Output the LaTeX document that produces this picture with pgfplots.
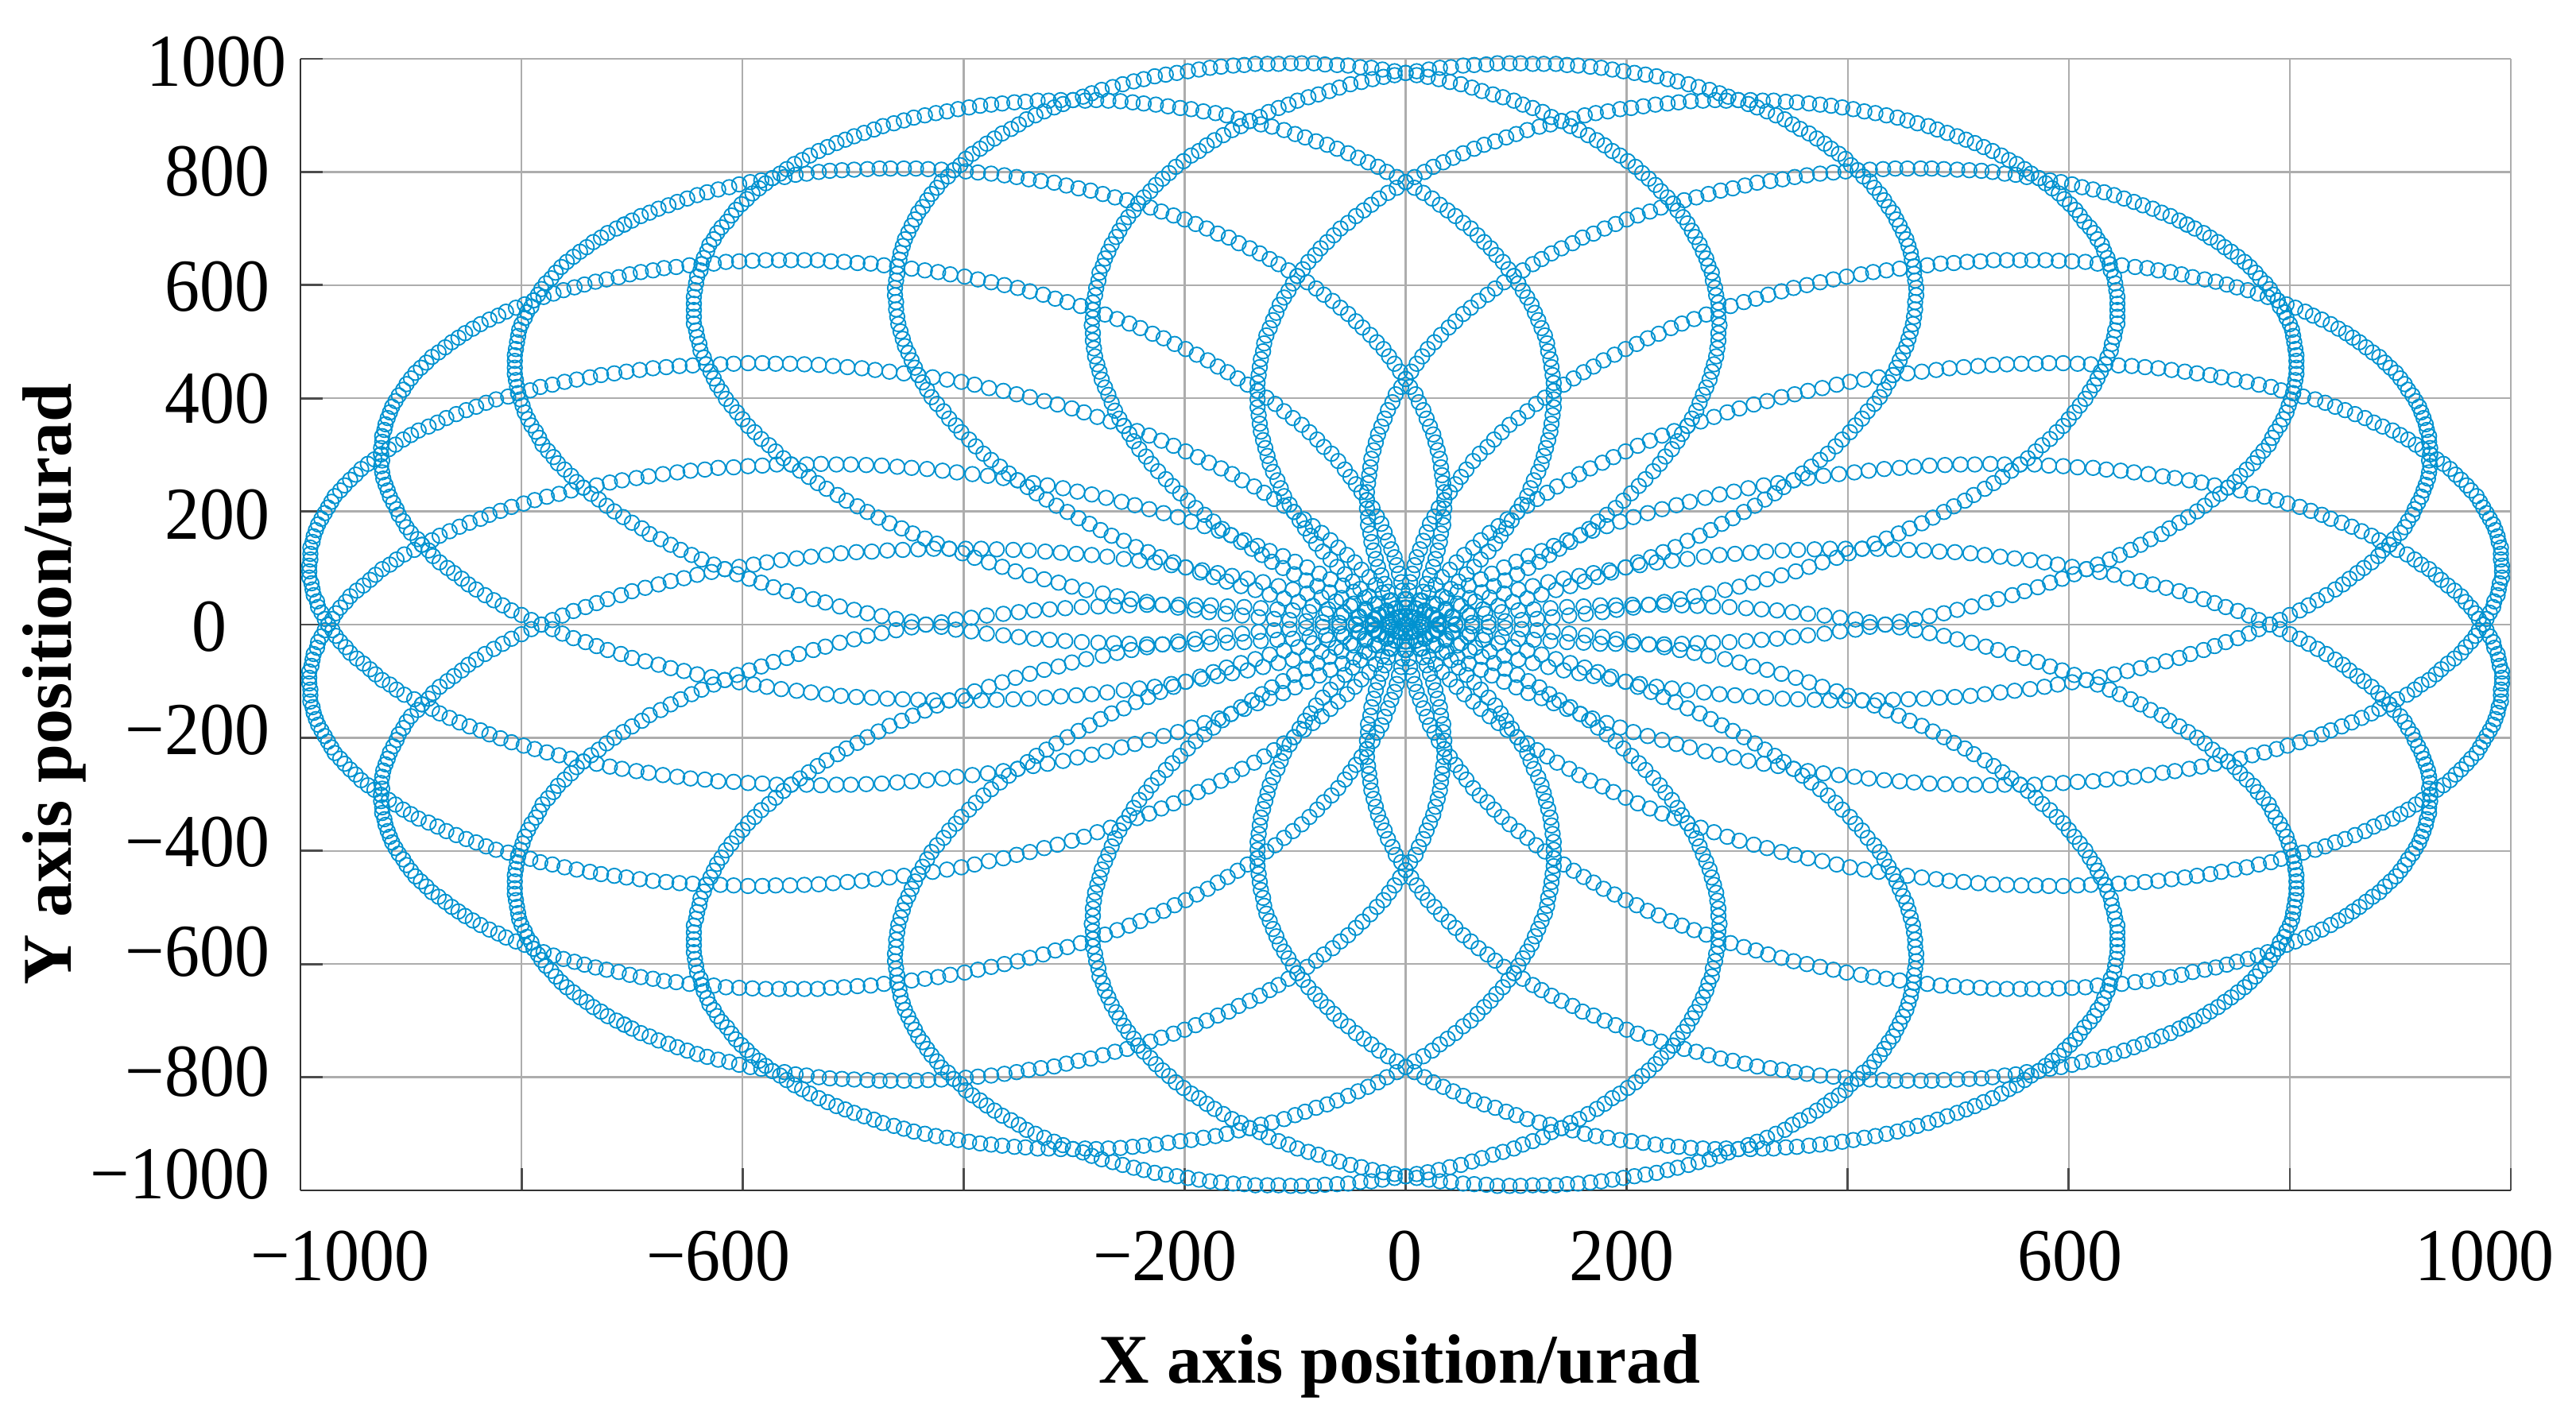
\documentclass[border=0pt]{standalone}
\usepackage{fontspec}
\setmainfont{Liberation Serif}
\usepackage{pgfplots}
\usepackage{pgfplotstable}
\pgfplotsset{compat=1.18}
\definecolor{ringblue}{RGB}{0,146,208}

% petal with its tip at 9 deg
\pgfplotstableread[row sep=\\]{
x y\\
0 0\\9 -12\\18 -24\\28 -36\\37 -47\\47 -58\\57 -69\\68 -80\\78 -90\\89 -101\\100 -111\\111 -121\\
123 -130\\134 -139\\146 -149\\158 -158\\169 -166\\182 -174\\194 -182\\206 -190\\219 -197\\232 -204\\
245 -211\\257 -217\\271 -224\\284 -230\\297 -235\\310 -241\\324 -246\\337 -250\\351 -255\\364 -259\\
378 -263\\392 -266\\406 -269\\419 -272\\433 -275\\447 -277\\460 -279\\474 -281\\488 -282\\502 -283\\
515 -283\\529 -284\\542 -283\\556 -283\\569 -283\\582 -281\\595 -280\\608 -278\\622 -277\\634 -274\\
647 -272\\659 -269\\672 -266\\685 -262\\696 -259\\709 -255\\720 -251\\732 -246\\744 -242\\755 -237\\
766 -231\\777 -226\\788 -220\\798 -214\\809 -208\\819 -201\\829 -194\\837 -187\\847 -180\\856 -173\\
865 -165\\874 -157\\881 -149\\890 -141\\897 -132\\906 -124\\913 -115\\919 -106\\926 -98\\932 -88\\
937 -79\\943 -69\\949 -60\\955 -50\\959 -40\\964 -30\\968 -20\\971 -10\\975 0\\978 10\\981 21\\984 31\\
985 41\\988 52\\989 62\\990 73\\992 83\\992 94\\992 104\\991 115\\991 125\\991 136\\989 146\\988 156\\
986 167\\984 177\\981 187\\978 197\\975 207\\972 217\\969 227\\964 237\\960 246\\955 256\\950 265\\
945 275\\939 284\\933 292\\927 301\\920 310\\914 318\\907 327\\900 335\\893 343\\884 350\\876 357\\
868 365\\859 372\\850 379\\841 385\\832 392\\823 398\\812 403\\803 409\\792 414\\783 420\\772 424\\
761 429\\750 433\\738 437\\728 441\\716 444\\705 447\\693 450\\681 453\\669 455\\657 457\\645 458\\
633 460\\620 460\\608 461\\595 462\\582 462\\570 461\\557 461\\544 460\\531 459\\518 457\\505 455\\
492 453\\480 450\\467 447\\454 444\\441 441\\428 437\\415 433\\402 429\\390 424\\377 418\\364 413\\
352 407\\340 402\\327 395\\315 389\\302 382\\291 375\\279 367\\267 359\\255 351\\243 342\\232 334\\
221 325\\210 316\\199 306\\188 296\\178 286\\167 276\\157 266\\148 255\\137 244\\128 233\\119 222\\
110 210\\101 199\\92 186\\84 174\\76 162\\68 149\\61 136\\53 123\\46 110\\40 97\\33 84\\27 70\\21 56\\
15 42\\10 28\\5 14\\0 0\\
}\petalA

% petal with its tip at 27 deg
\pgfplotstableread[row sep=\\]{
x y\\
0 0\\12 -9\\25 -17\\37 -25\\50 -33\\63 -41\\76 -48\\89 -55\\102 -62\\115 -68\\129 -75\\143 -81\\
157 -86\\170 -91\\184 -96\\199 -101\\212 -105\\227 -110\\241 -113\\255 -116\\270 -120\\284 -123\\
298 -125\\312 -127\\326 -129\\341 -131\\355 -132\\370 -133\\384 -134\\398 -134\\413 -134\\427 -134\\
441 -133\\455 -132\\469 -131\\483 -129\\497 -128\\511 -126\\524 -123\\538 -120\\551 -117\\565 -114\\
578 -110\\590 -106\\603 -102\\616 -98\\628 -93\\641 -88\\653 -82\\665 -77\\676 -71\\688 -65\\700 -59\\
710 -52\\722 -45\\732 -38\\742 -31\\753 -24\\763 -16\\772 -8\\782 0\\791 8\\800 17\\809 25\\817 34\\
825 43\\833 52\\841 62\\848 71\\854 81\\861 91\\867 100\\874 110\\880 121\\884 131\\890 141\\894 151\\
900 162\\904 172\\907 183\\911 194\\913 204\\916 215\\919 226\\921 237\\923 247\\925 258\\926 269\\
927 280\\926 290\\927 301\\927 312\\926 323\\926 333\\924 344\\923 354\\921 365\\919 375\\917 385\\
914 395\\911 405\\907 415\\904 425\\900 435\\896 445\\891 454\\886 463\\881 473\\875 481\\869 490\\
863 499\\857 507\\851 515\\844 523\\837 531\\829 539\\821 546\\814 553\\805 560\\797 566\\789 573\\
780 579\\771 585\\762 591\\752 596\\743 601\\733 606\\723 610\\712 614\\702 619\\692 623\\681 626\\
671 630\\660 632\\648 635\\637 637\\626 638\\615 641\\603 642\\591 643\\579 644\\567 644\\556 644\\
544 644\\532 644\\520 642\\508 641\\496 639\\484 638\\472 635\\460 633\\447 629\\435 626\\423 623\\
412 619\\399 615\\387 610\\375 605\\363 600\\351 595\\340 589\\328 583\\317 576\\306 570\\294 563\\
283 556\\272 548\\261 540\\250 532\\240 524\\229 514\\219 506\\209 496\\199 487\\189 477\\179 467\\
170 456\\161 446\\152 435\\143 424\\134 413\\126 401\\118 390\\110 377\\102 365\\94 353\\87 340\\
80 327\\74 314\\67 302\\61 289\\55 274\\50 261\\45 248\\40 234\\35 220\\30 206\\26 191\\22 178\\
19 163\\16 148\\13 133\\10 119\\8 105\\6 90\\4 75\\3 60\\1 45\\1 30\\0 15\\0 0\\
}\petalB

% upper half of the petal with its tip at 45 deg
\pgfplotstableread[row sep=\\]{
x y\\
707 707\\700 714\\692 722\\684 728\\676 735\\667 741\\659 747\\650 753\\641 759\\632 764\\622 769\\
612 773\\603 778\\593 782\\583 785\\573 789\\562 791\\552 795\\542 797\\531 800\\521 802\\510 803\\
499 804\\487 805\\476 806\\466 806\\454 806\\443 806\\432 805\\420 804\\409 803\\398 801\\387 799\\
375 797\\363 794\\352 791\\341 787\\330 784\\318 781\\307 776\\296 771\\285 767\\274 761\\263 755\\
252 750\\242 744\\231 737\\221 730\\210 723\\200 716\\190 708\\180 700\\170 691\\160 684\\151 674\\
141 665\\132 656\\123 646\\115 637\\106 626\\98 616\\89 605\\81 594\\74 583\\66 572\\59 560\\52 549\\
45 536\\39 525\\32 512\\26 499\\20 487\\15 474\\10 461\\5 447\\0 434\\-4 420\\-9 407\\-12 393\\
-16 379\\-19 364\\-22 350\\-25 336\\-27 322\\-29 308\\-31 293\\-32 278\\-33 264\\-34 250\\-35 234\\
-35 220\\-35 205\\-34 190\\-34 176\\-32 161\\-31 146\\-29 131\\-27 116\\-25 102\\-22 87\\-19 72\\
-16 58\\-13 43\\-9 29\\-4 14\\0 0\\
}\petalC

\pgfplotsset{
  panel/.style={
    scale only axis, width=13.905cm, height=7.12cm,
    xmin=-1000, xmax=1000, ymin=-1000, ymax=1000,
    clip=false,
  },
  rings/.style={only marks, mark=o, mark size=1.32pt,
    mark options={draw=ringblue, line width=0.26pt}},
}
\newcommand{\allpetals}{
  \addplot[rings] table[x=x,y=y]{\petalA};
  \addplot[rings] table[x=y,y=x]{\petalA};
  \addplot[rings] table[x=x,y=y]{\petalB};
  \addplot[rings] table[x=y,y=x]{\petalB};
  \addplot[rings] table[x=x,y=y]{\petalC};
  \addplot[rings] table[x=y,y=x]{\petalC};
}
\newcommand{\ticklab}[3]{\node[anchor=#1, inner sep=0pt, yscale=1.07, transform shape,
  font=\fontsize{12.5}{14}\selectfont] at (#2) {#3};}

\begin{document}
\begin{tikzpicture}
\path[use as bounding box] (-1.89,-1.47) rectangle (14.315,7.49);
\begin{axis}[panel,
    axis x line*=bottom, axis y line*=left,
    axis line style={-, black!80, line width=0.4pt},
    xtick={-1000,-800,...,1000}, ytick={-1000,-800,...,1000},
    xticklabels={}, yticklabels={},
    tick align=inside, major tick length=0.14cm,
    tick style={black!70, line width=0.4pt},
    grid=major, grid style={black!32, line width=0.35pt},
]
\allpetals
\end{axis}
\begin{axis}[panel, hide axis, x dir=reverse]
\allpetals
\end{axis}
\begin{axis}[panel, hide axis, y dir=reverse]
\allpetals
\end{axis}
\begin{axis}[panel, hide axis, x dir=reverse, y dir=reverse]
\allpetals
\end{axis}
% tick labels sit off their ticks in the original
\ticklab{center}{0.25,-0.413}{−1000}
\ticklab{center}{2.63,-0.413}{−600}
\ticklab{center}{5.44,-0.413}{−200}
\ticklab{center}{6.947,-0.413}{0}
\ticklab{center}{8.31,-0.413}{200}
\ticklab{center}{11.134,-0.413}{600}
\ticklab{center}{13.74,-0.413}{1000}
\ticklab{east}{-0.08,7.10}{1000}
\ticklab{east}{-0.187,6.41}{800}
\ticklab{east}{-0.187,5.686}{600}
\ticklab{east}{-0.187,4.983}{400}
\ticklab{east}{-0.187,4.249}{200}
\ticklab{east}{-0.456,3.546}{0}
\ticklab{east}{-0.187,2.895}{−200}
\ticklab{east}{-0.187,2.192}{−400}
\ticklab{east}{-0.187,1.499}{−600}
\ticklab{east}{-0.187,0.744}{−800}
\ticklab{east}{-0.187,0.103}{−1000}
\node[font=\fontsize{12.5}{14}\selectfont\bfseries, inner sep=0pt] at (6.916,-1.105) {X axis position/urad};
\node[font=\fontsize{12.5}{14}\selectfont\bfseries, inner sep=0pt, rotate=90] at (-1.55,3.184) {Y axis position/urad};
\end{tikzpicture}
\end{document}
